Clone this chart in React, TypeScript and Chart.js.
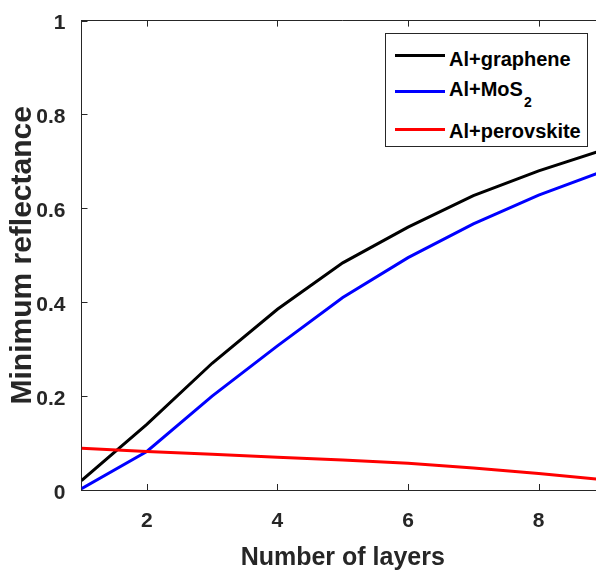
import React, { useEffect, useRef } from "react";
import { Chart, registerables } from "chart.js";

Chart.register(...registerables);

const layers = [1, 2, 3, 4, 5, 6, 7, 8, 9];
const graphene = [0.02, 0.14, 0.27, 0.385, 0.484, 0.56, 0.627, 0.68, 0.725];
const mos2 = [0.003, 0.082, 0.2, 0.307, 0.41, 0.495, 0.567, 0.628, 0.68];
const perovskite = [0.089, 0.082, 0.076, 0.07, 0.064, 0.057, 0.047, 0.035, 0.022];

const xTicks = [2, 4, 6, 8];
const yTicks = [0, 0.2, 0.4, 0.6, 0.8, 1];

const seriesNames = ["Al+graphene", "Al+MoS", "Al+perovskite"];
const seriesSub = ["", "2", ""];
const seriesColors = ["#000000", "#0000ff", "#ff0000"];
const seriesValues = [graphene, mos2, perovskite];

const AXIS = "#262626";
const FONT = "'Liberation Sans', Arial, Helvetica, sans-serif";

const boxPlugin = {
  id: "matlabBox",
  afterDraw(chart: any) {
    const { ctx, chartArea } = chart;
    const xs = chart.scales.x;
    const ys = chart.scales.y;
    const { left, right, top, bottom } = chartArea;
    ctx.save();
    ctx.strokeStyle = AXIS;
    ctx.lineWidth = 1;
    ctx.beginPath();
    const ty = Math.floor(top) + 0.5;
    ctx.moveTo(left, ty);
    ctx.lineTo(right, ty);
    const rx = Math.floor(right) + 0.5;
    ctx.moveTo(rx, top);
    ctx.lineTo(rx, bottom);
    for (const v of xTicks) {
      const px = Math.round(xs.getPixelForValue(v)) + 0.5;
      ctx.moveTo(px, bottom);
      ctx.lineTo(px, bottom - 6);
      ctx.moveTo(px, top);
      ctx.lineTo(px, top + 6);
    }
    for (const v of yTicks) {
      const py = Math.round(ys.getPixelForValue(v)) + 0.5;
      ctx.moveTo(left, py);
      ctx.lineTo(left + 6, py);
      ctx.moveTo(right, py);
      ctx.lineTo(right - 6, py);
    }
    ctx.stroke();
    ctx.restore();
  },
};

export default function App() {
  const ref = useRef<HTMLCanvasElement | null>(null);

  useEffect(() => {
    if (!ref.current) return;
    const chart = new Chart(ref.current, {
      type: "line",
      data: {
        datasets: seriesValues.map((vals, i) => ({
          label: seriesNames[i] + seriesSub[i],
          data: layers.map((x, j) => ({ x, y: vals[j] })),
          borderColor: seriesColors[i],
          backgroundColor: seriesColors[i],
          borderWidth: 3,
          pointRadius: 0,
          tension: 0,
          fill: false,
          order: 3 - i,
        })),
      },
      options: {
        animation: false,
        responsive: false,
        devicePixelRatio: 1,
        layout: { padding: { top: 15, right: 6, left: 0, bottom: 0 } },
        plugins: {
          legend: { display: false },
          tooltip: { enabled: false },
        },
        scales: {
          x: {
            type: "linear",
            min: 1,
            max: 9,
            afterFit: (s: any) => {
              s.height = 88;
            },
            afterBuildTicks: (s: any) => {
              s.ticks = xTicks.map((v) => ({ value: v }));
            },
            grid: { display: false },
            border: { display: true, color: AXIS, width: 1 },
            ticks: {
              color: AXIS,
              padding: 11,
              maxRotation: 0,
              font: { family: FONT, size: 21, weight: "bold" },
              callback: (v: any) => String(v),
            },
            title: {
              display: true,
              text: "Number of layers",
              color: AXIS,
              padding: { top: 0, bottom: 5 },
              font: { family: FONT, size: 25, weight: "bold" },
            },
          },
          y: {
            type: "linear",
            min: 0,
            max: 1,
            afterFit: (s: any) => {
              s.width = 81.5;
            },
            afterBuildTicks: (s: any) => {
              s.ticks = yTicks.map((v) => ({ value: v }));
            },
            grid: { display: false },
            border: { display: true, color: AXIS, width: 1 },
            ticks: {
              color: AXIS,
              padding: 8,
              labelOffset: 3,
              font: { family: FONT, size: 21, weight: "bold" },
              callback: (v: any) => String(v),
            },
            title: {
              display: true,
              text: "Minimum reflectance",
              color: AXIS,
              padding: { top: 5, bottom: 0 },
              font: { family: FONT, size: 30, weight: "bold" },
            },
          },
        },
      },
      plugins: [boxPlugin],
    });
    return () => chart.destroy();
  }, []);

  const entryTops = [48, 77.5, 119.5];
  const lineYs = [54, 90.5, 128];

  return (
    <div
      style={{
        position: "fixed",
        left: 0,
        top: 0,
        width: 596,
        height: 578,
        overflow: "hidden",
        background: "#ffffff",
      }}
    >
      <canvas ref={ref} width={610} height={578} style={{ width: 610, height: 578, display: "block" }} />
      <div
        style={{
          position: "absolute",
          left: 385,
          top: 33,
          width: 203,
          height: 114,
          border: `1px solid ${AXIS}`,
          background: "#ffffff",
          boxSizing: "border-box",
        }}
      >
        {seriesNames.map((name, i) => (
          <React.Fragment key={name}>
            <div
              style={{
                position: "absolute",
                left: 9,
                top: lineYs[i] - 33 - 1.5,
                width: 50,
                height: 3,
                background: seriesColors[i],
              }}
            />
            <div
              style={{
                position: "absolute",
                left: 63,
                top: entryTops[i] - 33,
                fontFamily: FONT,
                fontWeight: "bold",
                fontSize: 20,
                lineHeight: "20px",
                color: "#000000",
                whiteSpace: "nowrap",
              }}
            >
              {name}
              {seriesSub[i] ? (
                <span style={{ fontSize: 14, verticalAlign: -11, marginLeft: 1 }}>{seriesSub[i]}</span>
              ) : null}
            </div>
          </React.Fragment>
        ))}
      </div>
    </div>
  );
}
